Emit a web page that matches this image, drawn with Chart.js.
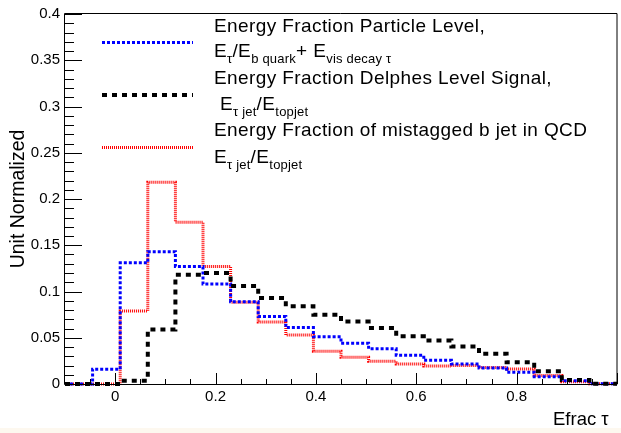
<!DOCTYPE html>
<html>
<head>
<meta charset="utf-8">
<script src="https://cdn.jsdelivr.net/npm/chart.js@4.4.1/dist/chart.umd.min.js"></script>
<style>
  html, body { margin: 0; padding: 0; background: #fdf8ef; }
  #wrap { position: relative; width: 621px; height: 428px; background: #fff; overflow: hidden; }
  #wrap canvas { position: absolute; left: 0; top: 0; }
  .txt { position: absolute; font-family: "Liberation Sans", Arial, sans-serif; font-size: 19px;
         line-height: 1; color: #000; white-space: nowrap; letter-spacing: 0.4px; }
  .txt sub { font-size: 13px; vertical-align: baseline; position: relative; top: 6px; letter-spacing: 0.2px; }
</style>
</head>
<body>
<div id="wrap">
  <canvas id="myChart" width="621" height="428"></canvas>
  <div class="txt" style="left:214px;top:16px">Energy Fraction Particle Level,</div>
  <div class="txt" style="left:214px;top:41px">E<sub>τ</sub>/E<sub>b quark</sub>+ E<sub>vis decay τ</sub></div>
  <div class="txt" style="left:214px;top:68px">Energy Fraction Delphes Level Signal,</div>
  <div class="txt" style="left:220px;top:94px">E<sub>τ jet</sub>/E<sub>topjet</sub></div>
  <div class="txt" style="left:214px;top:120px">Energy Fraction of mistagged b jet in QCD</div>
  <div class="txt" style="left:214px;top:147px">E<sub>τ jet</sub>/E<sub>topjet</sub></div>
  <div class="txt" style="left:553px;top:410px;font-size:18.5px;letter-spacing:0">Efrac τ</div>
</div>
<script>
// bin edges of the histograms (20 bins from -0.1 to 1.0)
const binEdges = [-0.1, -0.045, 0.01, 0.065, 0.12, 0.175, 0.23, 0.285, 0.34, 0.395, 0.45,
                  0.505, 0.56, 0.615, 0.67, 0.725, 0.78, 0.835, 0.89, 0.945, 1.0];

// particle level, E_tau / (E_b quark + E_vis decay tau)
const particleLevel = [0, 0.016, 0.131, 0.143, 0.127, 0.108, 0.089, 0.073, 0.061, 0.051,
                       0.044, 0.038, 0.031, 0.0256, 0.0217, 0.0174, 0.0128, 0.0078, 0.0035, 0.0003];
// delphes level signal, E_tau jet / E_topjet
const delphesSignal = [0, 0, 0.0035, 0.059, 0.118, 0.120, 0.106, 0.093, 0.084, 0.075,
                       0.0675, 0.0605, 0.0515, 0.047, 0.0405, 0.0327, 0.0235, 0.0139, 0.0043, 0.0003];
// mistagged b jet in QCD
const mistagQCD = [0, 0, 0.079, 0.218, 0.175, 0.127, 0.0885, 0.067, 0.053, 0.0355,
                   0.029, 0.0245, 0.0217, 0.0195, 0.020, 0.0178, 0.0163, 0.0093, 0.0025, 0.0003];

const xTickValues = [0, 0.2, 0.4, 0.6, 0.8, 1.0];
const xTickLabels = ['0', '0.2', '0.4', '0.6', '0.8', ''];
const yTickValues = [0, 0.05, 0.1, 0.15, 0.2, 0.25, 0.3, 0.35, 0.4];
const yTickLabels = ['0', '0.05', '0.1', '0.15', '0.2', '0.25', '0.3', '0.35', '0.4'];

const fontFamily = '"Liberation Sans", Arial, sans-serif';

// histogram outline: each bin value starts at its left edge, last value carried to the right edge
function histPoints(vals) {
    const pts = vals.map((v, i) => ({ x: binEdges[i], y: v }));
    pts.push({ x: binEdges[binEdges.length - 1], y: vals[vals.length - 1] });
    return pts;
}

const styles = {
    blue:  { color: '#0000ff', width: 3, dash: [3, 2] },
    black: { color: '#000000', width: 4, dash: [5, 5] },
    red:   { color: '#ff0000', width: 3, dash: [1, 1] },
};

function histDataset(label, vals, st) {
    return {
        label: label,
        data: histPoints(vals),
        borderColor: st.color,
        borderWidth: st.width,
        borderDash: st.dash,
        stepped: 'before',
        pointRadius: 0,
        fill: false,
        clip: false,
        borderCapStyle: 'butt',
    };
}

// ROOT like frame with inward ticks, plus the legend line samples
const rootFrame = {
    id: 'rootFrame',
    afterDraw(chart) {
        const { ctx, chartArea: a, scales: { x, y } } = chart;
        ctx.save();
        ctx.strokeStyle = '#000';
        ctx.lineWidth = 1;
        ctx.setLineDash([]);
        ctx.beginPath();
        ctx.rect(a.left - 0.5, a.top - 0.5, a.right - a.left + 0.5, a.bottom - a.top + 1);
        ctx.stroke();

        ctx.beginPath();
        // y ticks
        for (let i = 0; i < yTickValues.length; i++) {
            const py = Math.round(y.getPixelForValue(yTickValues[i])) + 0.5;
            ctx.moveTo(a.left, py); ctx.lineTo(a.left + 17, py);
            if (i < yTickValues.length - 1) {
                const step = (yTickValues[i + 1] - yTickValues[i]) / 5;
                for (let k = 1; k < 5; k++) {
                    const my = Math.round(y.getPixelForValue(yTickValues[i] + k * step)) + 0.5;
                    ctx.moveTo(a.left, my); ctx.lineTo(a.left + 9, my);
                }
            }
        }
        // x ticks
        const xStep = (xTickValues[1] - xTickValues[0]) / 4;
        for (let i = 0; i < xTickValues.length; i++) {
            const px = Math.round(x.getPixelForValue(xTickValues[i])) + 0.5;
            ctx.moveTo(px, a.bottom); ctx.lineTo(px, a.bottom - 11);
            for (let k = 1; k < 4; k++) {
                const v = xTickValues[i] + k * xStep;
                if (v >= x.max) break;
                const mx = Math.round(x.getPixelForValue(v)) + 0.5;
                ctx.moveTo(mx, a.bottom); ctx.lineTo(mx, a.bottom - 5);
            }
        }
        const first = xTickValues[0] - xStep;
        if (first > x.min) {
            const mx = Math.round(x.getPixelForValue(first)) + 0.5;
            ctx.moveTo(mx, a.bottom); ctx.lineTo(mx, a.bottom - 5);
        }
        ctx.stroke();

        // legend samples
        const legendRows = [[styles.blue, 42.5], [styles.black, 95], [styles.red, 147.5]];
        legendRows.forEach(([st, ly]) => {
            ctx.beginPath();
            ctx.strokeStyle = st.color;
            ctx.lineWidth = st.width;
            ctx.setLineDash(st.dash);
            ctx.moveTo(102, ly); ctx.lineTo(193, ly);
            ctx.stroke();
        });
        ctx.restore();
    }
};

const ctx = document.getElementById('myChart').getContext('2d');
const myChart = new Chart(ctx, {
    type: 'line',
    data: {
        datasets: [
            histDataset('Energy Fraction Delphes Level Signal', delphesSignal, styles.black),
            histDataset('Energy Fraction Particle Level', particleLevel, styles.blue),
            histDataset('Energy Fraction of mistagged b jet in QCD', mistagQCD, styles.red),
        ],
    },
    options: {
        responsive: false,
        animation: false,
        layout: { padding: { top: 9, right: 0, left: 0, bottom: 0 } },
        plugins: { legend: { display: false }, tooltip: { enabled: false } },
        scales: {
            x: {
                type: 'linear',
                min: -0.1,
                max: 1.0,
                grid: { display: false, drawTicks: false },
                border: { display: false },
                afterBuildTicks: s => { s.ticks = xTickValues.map(v => ({ value: v })); },
                afterFit: s => { s.height = 44; },
                ticks: {
                    font: { family: fontFamily, size: 15 },
                    color: '#000',
                    padding: 4,
                    maxRotation: 0,
                    autoSkip: false,
                    callback: (v, i) => xTickLabels[i],
                },
            },
            y: {
                type: 'linear',
                min: 0,
                max: 0.4,
                grid: { display: false, drawTicks: false },
                border: { display: false },
                afterBuildTicks: s => { s.ticks = yTickValues.map(v => ({ value: v })); },
                afterFit: s => { s.width = 65; },
                ticks: {
                    font: { family: fontFamily, size: 15 },
                    color: '#000',
                    padding: 5,
                    autoSkip: false,
                    callback: (v, i) => yTickLabels[i],
                },
                title: {
                    display: true,
                    text: 'Unit Normalized',
                    color: '#000',
                    font: { family: fontFamily, size: 19.5 },
                    padding: { top: 7, bottom: 0 },
                },
            },
        },
    },
    plugins: [rootFrame],
});
</script>
</body>
</html>
